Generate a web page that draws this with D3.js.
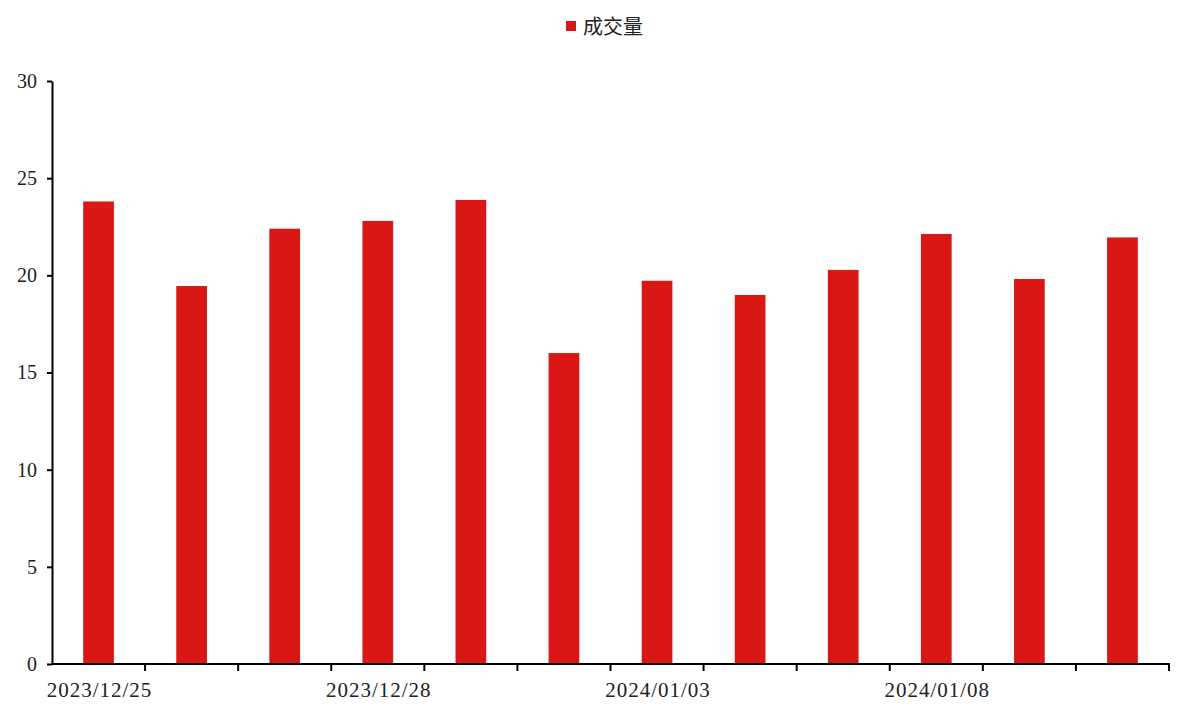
<!DOCTYPE html>
<html>
<head>
<meta charset="utf-8">
<script src="https://cdn.jsdelivr.net/npm/d3@7/dist/d3.min.js"></script>
<style>
  html, body { margin: 0; padding: 0; background: #ffffff; }
  svg { display: block; }
</style>
</head>
<body>
<svg id="chart" width="1200" height="711"></svg>
<script>
// Daily trading volume
const categories = [
  "2023/12/25", "2023/12/26", "2023/12/27", "2023/12/28", "2023/12/29",
  "2024/01/02", "2024/01/03", "2024/01/04", "2024/01/05", "2024/01/08",
  "2024/01/09", "2024/01/10"
];
const volume = [23.8, 19.45, 22.4, 22.8, 23.88, 16.0, 19.72, 18.99, 20.28, 22.13, 19.81, 21.95];
const yTicks = [0, 5, 10, 15, 20, 25, 30];
const labeledCategories = ["2023/12/25", "2023/12/28", "2024/01/03", "2024/01/08"];
const seriesName = "成交量";

const barColor = "#d91815";
const numFont = "'Liberation Serif', 'DejaVu Serif', serif";
const cjkFont = "'Noto Sans CJK SC', sans-serif";

const svg = d3.select("#chart");
const margin = { left: 52, right: 31, top: 81, bottom: 47 };
const W = 1200, H = 711;

const x = d3.scaleBand()
  .domain(categories)
  .range([margin.left, W - margin.right])
  .paddingInner(0.67)
  .paddingOuter(0.335);

const y = d3.scaleLinear()
  .domain([0, 30])
  .range([H - margin.bottom, margin.top]);

// bars
svg.append("g")
  .selectAll("rect")
  .data(categories)
  .join("rect")
  .attr("x", d => x(d))
  .attr("width", x.bandwidth())
  .attr("y", (d, i) => y(volume[i]))
  .attr("height", (d, i) => y(0) - y(volume[i]))
  .attr("fill", barColor);

// y axis
const yAxis = svg.append("g")
  .attr("transform", `translate(${margin.left},0)`)
  .call(d3.axisLeft(y).tickValues(yTicks).tickSize(5).tickSizeOuter(0).tickPadding(10));
yAxis.select(".domain").attr("stroke", "#000").attr("stroke-width", 2);
yAxis.selectAll(".tick line").attr("stroke", "#000").attr("stroke-width", 2);
yAxis.selectAll(".tick text")
  .attr("font-family", numFont)
  .attr("font-size", 20)
  .attr("fill", "#222");

// x axis: ticks sit on band boundaries, labels every third category
const step = x.step();
const x0 = margin.left, x1 = W - margin.right;
const boundaries = d3.range(categories.length + 1).map(i => x0 + i * (x1 - x0) / categories.length);
const xg = svg.append("g");
xg.append("line")
  .attr("x1", x0 - 1).attr("x2", x1 + 1)
  .attr("y1", y(0)).attr("y2", y(0))
  .attr("stroke", "#000").attr("stroke-width", 2);
xg.selectAll("line.tick")
  .data(boundaries.slice(1))
  .join("line")
  .attr("class", "tick")
  .attr("x1", d => d).attr("x2", d => d)
  .attr("y1", y(0)).attr("y2", y(0) + 7)
  .attr("stroke", "#000").attr("stroke-width", 2);
xg.selectAll("text")
  .data(labeledCategories)
  .join("text")
  .attr("x", d => x(d) + x.bandwidth() / 2 + 1)
  .attr("y", y(0) + 33)
  .attr("text-anchor", "middle")
  .attr("font-family", numFont)
  .attr("font-size", 21)
  .attr("letter-spacing", 1)
  .attr("fill", "#222")
  .text(d => d);

// legend
const lg = svg.append("g");
lg.append("rect")
  .attr("x", 566).attr("y", 21)
  .attr("width", 10).attr("height", 10)
  .attr("fill", barColor);
lg.append("text")
  .attr("x", 583).attr("y", 34)
  .attr("font-family", cjkFont)
  .attr("font-size", 20)
  .attr("fill", "#222")
  .text(seriesName);
</script>
</body>
</html>
